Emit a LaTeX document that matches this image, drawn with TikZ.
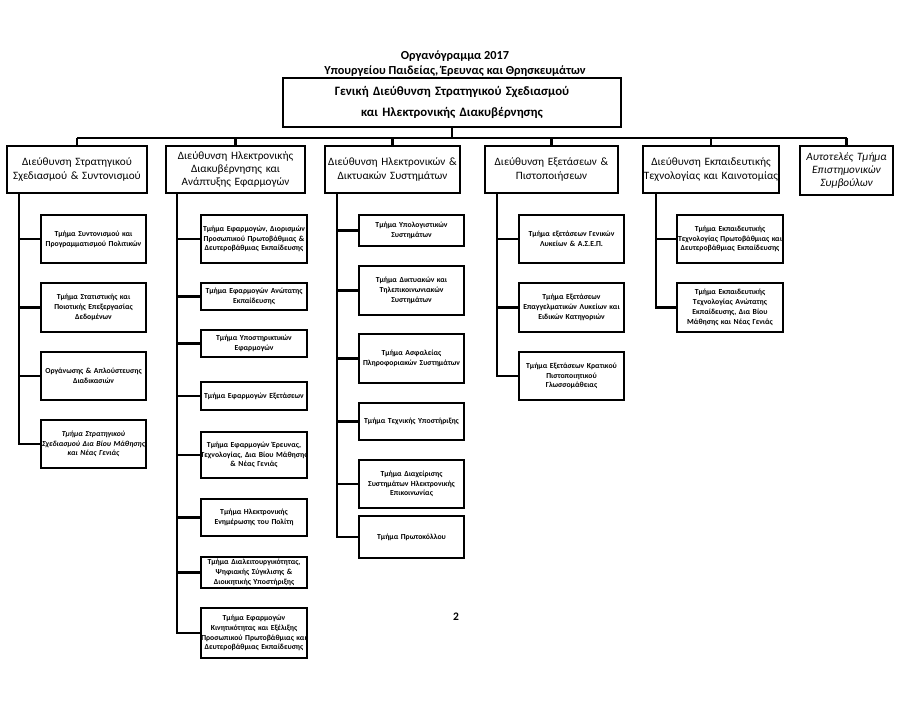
\documentclass[tikz,border=0pt]{standalone}
\usepackage{fontspec}
\setmainfont{Carlito}
\newcommand\subfnt{\fontsize{7.7}{9.8}\selectfont\bfseries}
\newcommand\hdfnt{\fontsize{11.2}{13.4}\selectfont}
\newcommand\oneln[1]{\makebox[0pt]{#1}}
\begin{document}
\begin{tikzpicture}[x=1pt,y=-1pt,
  sub/.style={draw, line width=2.1pt, inner xsep=0pt, inner ysep=0pt, align=center, font=\subfnt},
  hd/.style={draw, line width=2.2pt, inner xsep=0pt, inner ysep=0pt, align=center, font=\hdfnt, minimum height=47pt},
  conn/.style={line width=2.8pt},
  ttl/.style={font=\fontsize{12.3}{15}\selectfont\bfseries, align=center, inner sep=0pt}]
\useasboundingbox (0,0) rectangle (908,727);
\node[ttl] (t1) at (455,56) {Οργανόγραμμα 2017};
\node[ttl] (t2) at (455,71) {Υπουργείου Παιδείας, Έρευνας και Θρησκευμάτων};
\node[draw, line width=2.6pt, text width=338pt, minimum height=49pt, inner sep=0pt, align=center,
  font=\fontsize{12.8}{21}\selectfont\bfseries] (top) at (452,102.5)
  {Γενική Διεύθυνση Στρατηγικού Σχεδιασμού\\και Ηλεκτρονικής Διακυβέρνησης};
\coordinate (bus) at (0,138);
% headers
\node[hd, text width=140pt] (h1) at (77,169.5) {Διεύθυνση Στρατηγικού\\\oneln{Σχεδιασμού \& Συντονισμού}};
\node[hd, text width=139pt] (h2) at (235.5,169.5) {Διεύθυνση Ηλεκτρονικής\\Διακυβέρνησης και\\Ανάπτυξης Εφαρμογών};
\node[hd, text width=135pt] (h3) at (392.5,169.5) {\oneln{Διεύθυνση Ηλεκτρονικών \&}\\Δικτυακών Συστημάτων};
\node[hd, text width=133pt] (h4) at (551.5,169.5) {Διεύθυνση Εξετάσεων \&\\Πιστοποιήσεων};
\node[hd, text width=136pt] (h5) at (711,169.5) {Διεύθυνση Εκπαιδευτικής\\\oneln{Τεχνολογίας και Καινοτομίας}};
\node[hd, text width=93pt, minimum height=49pt, font=\hdfnt\itshape] (h6) at (846.5,170.5) {Αυτοτελές Τμήμα\\Επιστημονικών\\Συμβούλων};
% column 1
\begin{scope}[every node/.append style={sub, text width=105pt}]
\node[minimum height=48pt] (b11) at (93.5,239) {Τμήμα Συντονισμού και\\\oneln{Προγραμματισμού Πολιτικών}};
\node[minimum height=49pt] (b12) at (93.5,307.5) {Τμήμα Στατιστικής και\\Ποιοτικής Επεξεργασίας\\Δεδομένων};
\node[minimum height=48pt] (b13) at (93.5,376) {\oneln{Οργάνωσης \& Απλούστευσης}\\Διαδικασιών};
\node[minimum height=48pt, font=\subfnt\itshape] (b14) at (93.5,444) {Τμήμα Στρατηγικού\\\oneln{Σχεδιασμού Δια Βίου Μάθησης}\\και Νέας Γενιάς};
\end{scope}
% column 2
\begin{scope}[every node/.append style={sub, text width=106pt}]
\node[minimum height=48pt] (b21) at (254,239) {\oneln{Τμήμα Εφαρμογών, Διορισμών}\\\oneln{Προσωπικού Πρωτοβάθμιας \&}\\\oneln{Δευτεροβάθμιας Εκπαίδευσης}};
\node[minimum height=27pt] (b22) at (254,296.5) {\oneln{Τμήμα Εφαρμογών Ανώτατης}\\Εκπαίδευσης};
\node[minimum height=27pt] (b23) at (254,343.5) {Τμήμα Υποστηρικτικών\\Εφαρμογών};
\node[minimum height=28pt] (b24) at (254,396) {\oneln{Τμήμα Εφαρμογών Εξετάσεων}};
\node[minimum height=46pt] (b25) at (254,455) {\oneln{Τμήμα Εφαρμογών Έρευνας,}\\\oneln{Τεχνολογίας, Δια Βίου Μάθησης}\\\& Νέας Γενιάς};
\node[minimum height=37pt] (b26) at (254,517.5) {Τμήμα Ηλεκτρονικής\\\oneln{Ενημέρωσης του Πολίτη}};
\node[minimum height=31pt] (b27) at (254,572.5) {\oneln{Τμήμα Διαλειτουργικότητας,}\\Ψηφιακής Σύγκλισης \&\\\oneln{Διοικητικής Υποστήριξης}};
\node[minimum height=50pt] (b28) at (254,633) {Τμήμα Εφαρμογών\\\oneln{Κινητικότητας και Εξέλιξης}\\\oneln{Προσωπικού Πρωτοβάθμιας και}\\\oneln{Δευτεροβάθμιας Εκπαίδευσης}};
\end{scope}
% column 3
\begin{scope}[every node/.append style={sub, text width=105pt}]
\node[minimum height=31pt] (b31) at (411.5,230.5) {Τμήμα Υπολογιστικών\\Συστημάτων};
\node[minimum height=49pt] (b32) at (411.5,290.5) {Τμήμα Δικτυακών και\\Τηλεπικοινωνιακών\\Συστημάτων};
\node[minimum height=49pt] (b33) at (411.5,358.5) {Τμήμα Ασφαλείας\\\oneln{Πληροφοριακών Συστημάτων}};
\node[minimum height=37pt] (b34) at (411.5,421.5) {\oneln{Τμήμα Τεχνικής Υποστήριξης}};
\node[minimum height=48pt] (b35) at (411.5,484) {Τμήμα Διαχείρισης\\\oneln{Συστημάτων Ηλεκτρονικής}\\Επικοινωνίας};
\node[minimum height=42pt] (b36) at (411.5,537) {Τμήμα Πρωτοκόλλου};
\end{scope}
% column 4
\begin{scope}[every node/.append style={sub, text width=105pt}]
\node[minimum height=48pt] (b41) at (571.5,239) {\oneln{Τμήμα εξετάσεων Γενικών}\\Λυκείων \& Α.Σ.Ε.Π.};
\node[minimum height=49pt] (b42) at (571.5,307.5) {Τμήμα Εξετάσεων\\\oneln{Επαγγελματικών Λυκείων και}\\Ειδικών Κατηγοριών};
\node[minimum height=48pt] (b43) at (571.5,376) {\oneln{Τμήμα Εξετάσεων Κρατικού}\\Πιστοποιητικού\\Γλωσσομάθειας};
\end{scope}
% column 5
\begin{scope}[every node/.append style={sub, text width=106pt}]
\node[minimum height=48pt] (b51) at (730,239) {Τμήμα Εκπαιδευτικής\\\oneln{Τεχνολογίας Πρωτοβάθμιας και}\\\oneln{Δευτεροβάθμιας Εκπαίδευσης}};
\node[minimum height=49pt] (b52) at (730,307.5) {Τμήμα Εκπαιδευτικής\\Τεχνολογίας Ανώτατης\\\oneln{Εκπαίδευσης, Δια Βίου}\\\oneln{Μάθησης και Νέας Γενιάς}};
\end{scope}
\node[font=\fontsize{11.5}{13}\selectfont\bfseries, inner sep=0pt] (pg) at (456,617) {2};
% connectors
\draw[conn] (top.south) -- (top.south |- bus);
\draw[conn] (h1.north |- bus) -- (h6.north |- bus);
\foreach \h in {h1,h2,h3,h4,h5,h6} \draw[conn] (\h.north) -- (\h.north |- bus);
\foreach \b in {b11,b12,b13,b14} \draw[conn] ([xshift=13pt]h1.south west) |- (\b.west);
\foreach \b in {b21,b22,b23,b24,b25,b26,b27,b28} \draw[conn] ([xshift=12pt]h2.south west) |- (\b.west);
\foreach \b in {b31,b32,b33,b34,b35,b36} \draw[conn] ([xshift=13pt]h3.south west) |- (\b.west);
\foreach \b in {b41,b42,b43} \draw[conn] ([xshift=13pt]h4.south west) |- (\b.west);
\foreach \b in {b51,b52} \draw[conn] ([xshift=14pt]h5.south west) |- (\b.west);
\end{tikzpicture}
\end{document}
